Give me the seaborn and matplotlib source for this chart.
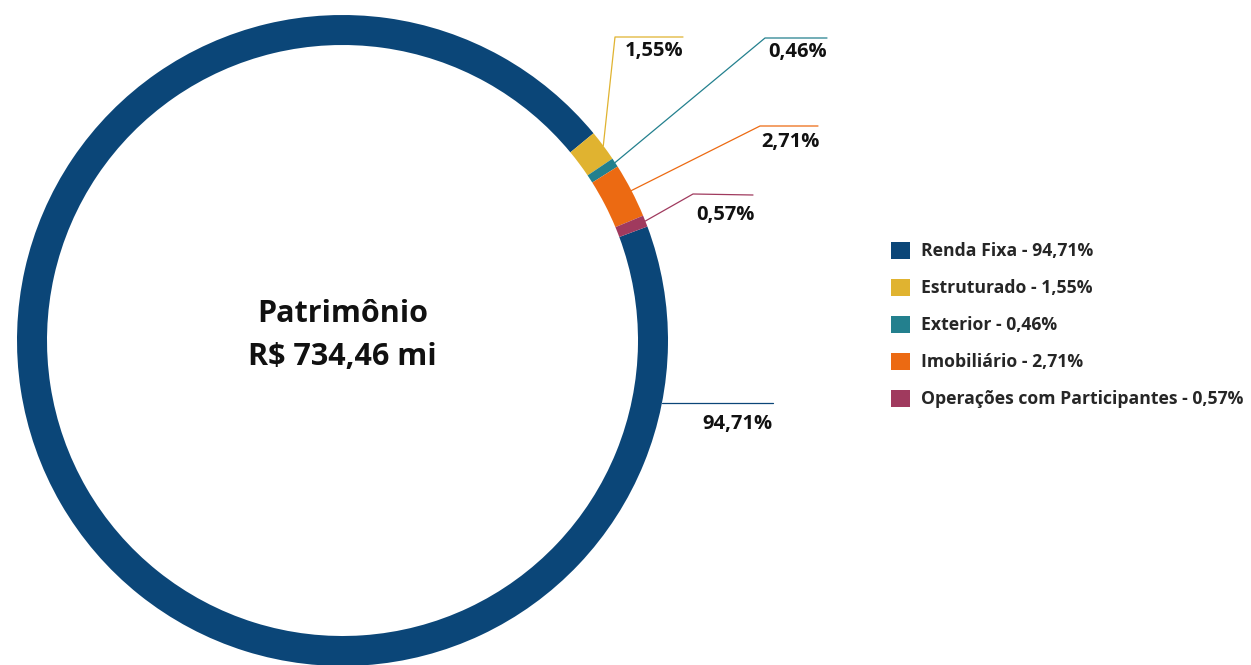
import numpy as np
import matplotlib
matplotlib.use("Agg")
from matplotlib import pyplot as plt
from matplotlib.patches import Patch
import seaborn as sns

# dados
categorias = ["Renda Fixa", "Estruturado", "Exterior", "Imobiliário",
              "Operações com Participantes"]
valores = [94.71, 1.55, 0.46, 2.71, 0.57]
rotulos = ["94,71%", "1,55%", "0,46%", "2,71%", "0,57%"]
cores = ["#0B4678", "#E0B330", "#23808E", "#EC6A12", "#A03A5E"]
titulo_centro = "Patrimônio\nR$ 734,46 mi"

sns.set_theme(style="white")
plt.rcParams['font.family'] = ['Open Sans', 'DejaVu Sans']
plt.rcParams['font.weight'] = 'bold'

W, H = 1251, 665
fig = plt.figure(figsize=(W / 100, H / 100), dpi=100)
ax = fig.add_axes([0, 0, 1, 1])
ax.set_xlim(0, W)
ax.set_ylim(0, H)
ax.set_aspect("equal")
ax.axis("off")

cx, cy, raio = 342.5, H - 340.5, 325.5
paleta = sns.color_palette(cores)
wedges, _ = ax.pie(valores, colors=paleta, startangle=20.5, counterclock=False,
                   radius=raio, center=(cx, cy),
                   wedgeprops=dict(width=30, linewidth=0))
ax.set_xlim(0, W)
ax.set_ylim(0, H)

ax.text(cx, cy + 5, titulo_centro, ha="center", va="center", fontsize=22,
        fontweight="bold", linespacing=1.55, color="#111111")

# rótulos com linhas de chamada (pontos de quebra em pixels da imagem)
quebras = {
    1: ((615, 37), (683, 37), (654, 51)),
    2: ((765, 38), (827, 38), (798, 52)),
    3: ((760, 126), (818, 126), (790, 142)),
    4: ((693, 194), (753, 195), (725, 215)),
}
for i, w in enumerate(wedges):
    if i == 0:
        ang = np.deg2rad(-11)
        x0, y0 = cx + raio * np.cos(ang), cy + raio * np.sin(ang)
        ax.plot([x0, 773], [y0, y0], color=cores[0], lw=0.9)
        ax.text(737, H - 424, rotulos[0], ha="center", va="center",
                fontsize=14.5, fontweight="bold", color="#111111")
        continue
    ang = np.deg2rad((w.theta1 + w.theta2) / 2)
    x0, y0 = cx + raio * np.cos(ang), cy + raio * np.sin(ang)
    (ex, ey), (fx, fy), (tx, ty) = quebras[i]
    ax.plot([x0, ex, fx], [y0, H - ey, H - fy], color=cores[i], lw=0.9)
    ax.text(tx, H - ty, rotulos[i], ha="center", va="center", fontsize=14.5,
            fontweight="bold", color="#111111")

# legenda
handles = [Patch(facecolor=c, edgecolor="none") for c in cores]
labels = [f"{c} - {r}" for c, r in zip(categorias, rotulos)]
fig.legend(handles, labels, loc="upper left", bbox_to_anchor=(882 / W, 1 - 233 / H),
           frameon=False, handlelength=1.1, handleheight=1.1,
           handletextpad=0.62, labelspacing=1.05, borderpad=0,
           prop=dict(weight="bold", size=12.7))

fig.savefig("out.png", dpi=100, facecolor="white")
